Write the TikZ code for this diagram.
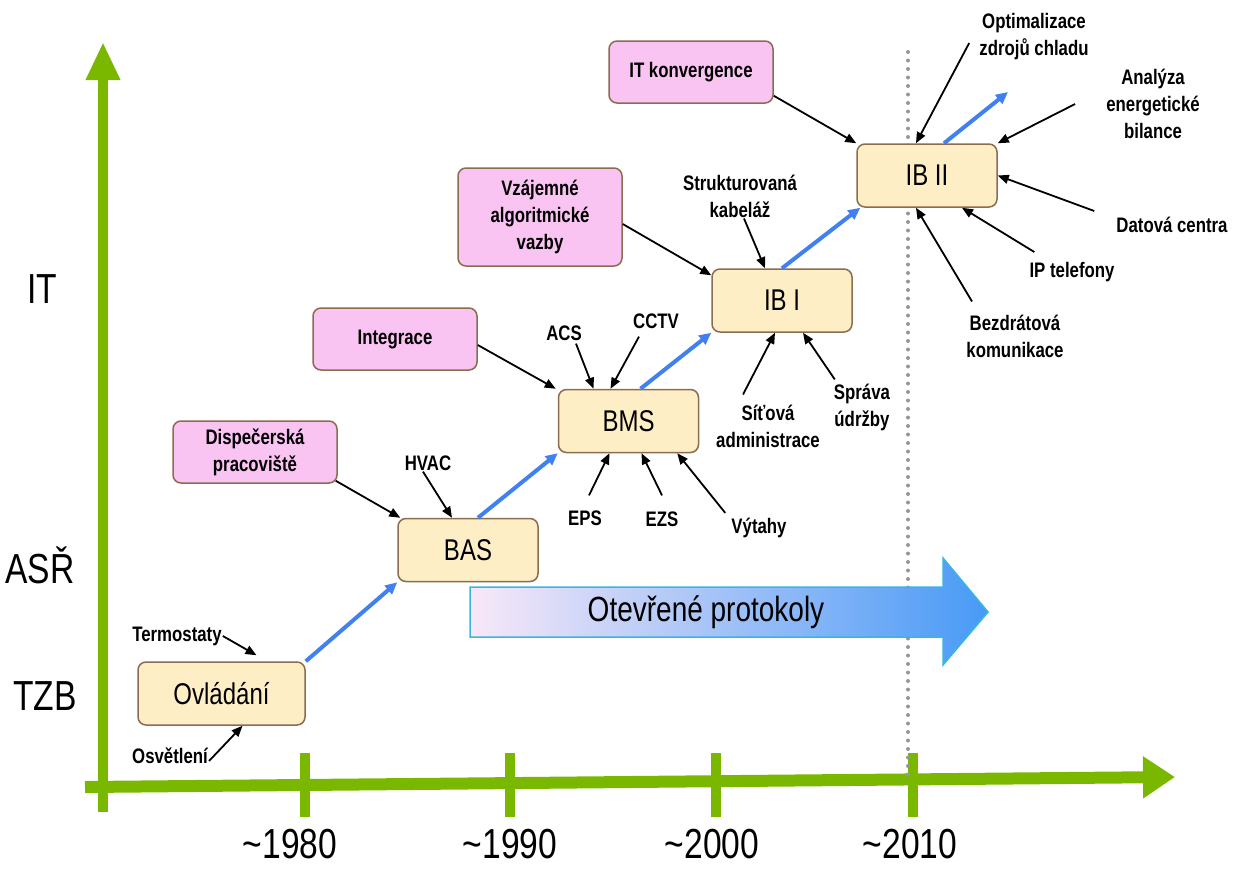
\documentclass[tikz,border=0pt]{standalone}
\usepackage{fontspec}
\setmainfont{Liberation Sans}[FakeStretch=0.8]
\usetikzlibrary{arrows.meta}

\definecolor{axisgreen}{RGB}{122,184,0}
\definecolor{stagefill}{RGB}{253,238,198}
\definecolor{ideafill}{RGB}{250,196,242}
\definecolor{boxedge}{RGB}{140,108,78}
\definecolor{growblue}{RGB}{64,128,240}
\definecolor{dotgray}{RGB}{150,150,150}
\definecolor{protoL}{RGB}{248,232,248}
\definecolor{protoM}{RGB}{190,210,242}
\definecolor{protoR}{RGB}{72,154,246}
\definecolor{protoedge}{RGB}{56,182,224}

\tikzset{
  stage/.style={draw=boxedge, fill=stagefill, rounded corners=8pt, line width=1.5pt,
    minimum width=140pt, minimum height=63pt, font=\fontsize{30}{34}\selectfont},
  idea/.style={draw=boxedge, fill=ideafill, rounded corners=8pt, line width=1.5pt,
    minimum width=164pt, minimum height=62pt, align=center,
    font=\bfseries\fontsize{21}{27}\selectfont},
  tech/.style={inner sep=1pt, align=center, font=\bfseries\fontsize{21}{27}\selectfont},
  feed/.style={-{Triangle[length=11pt,width=9pt]}, line width=1.8pt},
  evolve/.style={-{Triangle[length=12pt,width=11pt]}, line width=4pt, growblue},
  greenaxis/.style={axisgreen, line width=10pt},
  rowlabel/.style={anchor=base, inner sep=0pt, font=\fontsize{42}{48}\selectfont},
}

\begin{document}
\begin{tikzpicture}[x=1pt,y=-1pt]
\useasboundingbox (0,0) rectangle (1234,868);
% axes
\draw[greenaxis, -{Triangle[width=32pt,length=38pt]}] (103,812) -- (103,42);
\draw[greenaxis, line width=12pt, -{Triangle[width=40pt,length=32pt]}] (85,787) -- (1175,777);
\foreach \x/\lx/\yr in {305/290/1980, 510/510/1990, 716/712/2000, 913/910/2010} {
  \draw[greenaxis] (\x,753) -- (\x,817);
  \node[rowlabel] (yr\yr) at (\lx,858) {\textasciitilde\yr};
}
\node[rowlabel] (rowit) at (42,303) {IT};
\node[rowlabel] (rowasr) at (40,583) {ASŘ};
\node[rowlabel] (rowtzb) at (45,710) {TZB};
\draw[dotgray, line width=4pt, line cap=round, dash pattern=on 0pt off 8.5pt] (908,52) -- (908,780);

% open protocols
\draw[protoedge, line width=1.5pt, left color=protoL, middle color=protoM, right color=protoR]
  (470,587) -- (943,587) -- (943,558) -- (988,612) -- (943,665) -- (943,637) -- (470,637) -- cycle;
\node[font=\fontsize{35}{40}\selectfont] (proto) at (706,612) {Otevřené protokoly};

% stages
\node[stage, minimum width=167pt] (ovl) at (221.5,693.5) {Ovládání};
\node[stage] (bas) at (468,550) {BAS};
\node[stage] (bms) at (628.5,421) {BMS};
\node[stage] (ibi) at (782,300.5) {IB I};
\node[stage] (ibii) at (927,175.5) {IB II};
\coordinate (ibnext) at (1008,92);

% pink boxes
\node[idea] (disp) at (255,452) {Dispečerská\\pracoviště};
\node[idea] (integ) at (395,339) {Integrace};
\node[idea, minimum height=98pt] (vzaj) at (540,217) {Vzájemné\\algoritmické\\vazby};
\node[idea] (itk) at (691,72) {IT konvergence};

% technologies
\node[tech] (term) at (177,636) {Termostaty};
\node[tech] (osv) at (170,756) {Osvětlení};
\node[tech] (hvac) at (428,463) {HVAC};
\node[tech] (acs) at (564,333) {ACS};
\node[tech] (cctv) at (656,321) {CCTV};
\node[tech] (eps) at (585,518) {EPS};
\node[tech] (ezs) at (662,519) {EZS};
\node[tech] (vyt) at (759,528) {Výtahy};
\node[tech] (sit) at (768,426) {Síťová\\administrace};
\node[tech] (spr) at (862,407) {Správa\\údržby};
\node[tech] (strk) at (740,196) {Strukturovaná\\kabeláž};
\node[tech] (opt) at (1034,37) {Optimalizace\\zdrojů chladu};
\node[tech] (ana) at (1153,104) {Analýza\\energetické\\bilance};
\node[tech] (dat) at (1172,225) {Datová centra};
\node[tech] (ipt) at (1072,272) {IP telefony};
\node[tech] (bez) at (1015,336) {Bezdrátová\\komunikace};

% development
\draw[evolve] (ovl.north east) -- (bas.south west);
\draw[evolve] ([xshift=10pt]bas.north) -- (bms.south west);
\draw[evolve] ([xshift=12pt]bms.north) -- (ibi.south west);
\draw[evolve] (ibi.north) -- ([xshift=4pt]ibii.south west);
\draw[evolve] ([xshift=17pt]ibii.north) -- (ibnext);

% inputs
\draw[feed] (term.east) -- ([xshift=35pt,yshift=6pt]ovl.north);
\draw[feed] ([yshift=-5pt]osv.east) -- ([xshift=21pt]ovl.south);
\draw[feed] ([xshift=-2pt,yshift=3pt]disp.south east) -- ([xshift=3pt]bas.north west);
\draw[feed] ([xshift=-5pt]hvac.south) -- ([xshift=-16pt]bas.north);
\draw[feed] ([yshift=-6pt]integ.east) -- ([xshift=-2pt]bms.north west);
\draw[feed] ([xshift=12pt,yshift=-2pt]acs.south) -- ([xshift=-35pt]bms.north);
\draw[feed] ([xshift=-17pt,yshift=-7pt]cctv.south) -- ([xshift=-18pt]bms.north);
\draw[feed] ([xshift=4pt,yshift=14pt]eps.north) -- ([xshift=-19pt]bms.south);
\draw[feed] ([yshift=15pt]ezs.north) -- ([xshift=13pt]bms.south);
\draw[feed] ([xshift=-5pt,yshift=4pt]vyt.north west) -- ([xshift=-22pt]bms.south east);
\draw[feed] ([xshift=-25pt,yshift=9pt]sit.north) -- ([xshift=-7pt]ibi.south);
\draw[feed] ([xshift=2pt,yshift=3pt]spr.north west) -- ([xshift=21pt]ibi.south);
\draw[feed] ([yshift=-7pt]vzaj.east) -- ([yshift=-7pt]ibi.north west);
\draw[feed] ([xshift=4pt]strk.south) -- ([xshift=-17pt]ibi.north);
\draw[feed] ([yshift=8pt]itk.south east) -- (ibii.north west);
\draw[feed] ([xshift=-9pt,yshift=-6pt]opt.west) -- ([xshift=-11pt]ibii.north);
\draw[feed] ([xshift=-30pt]ana.west) -- (ibii.north east);
\draw[feed] ([xshift=-21pt,yshift=5pt]dat.north west) -- (ibii.east);
\draw[feed] ([xshift=6pt,yshift=9pt]ipt.north west) -- ([xshift=35pt]ibii.south);
\draw[feed] ([xshift=-43pt,yshift=12pt]bez.north) -- ([xshift=-11pt]ibii.south);
\end{tikzpicture}
\end{document}
